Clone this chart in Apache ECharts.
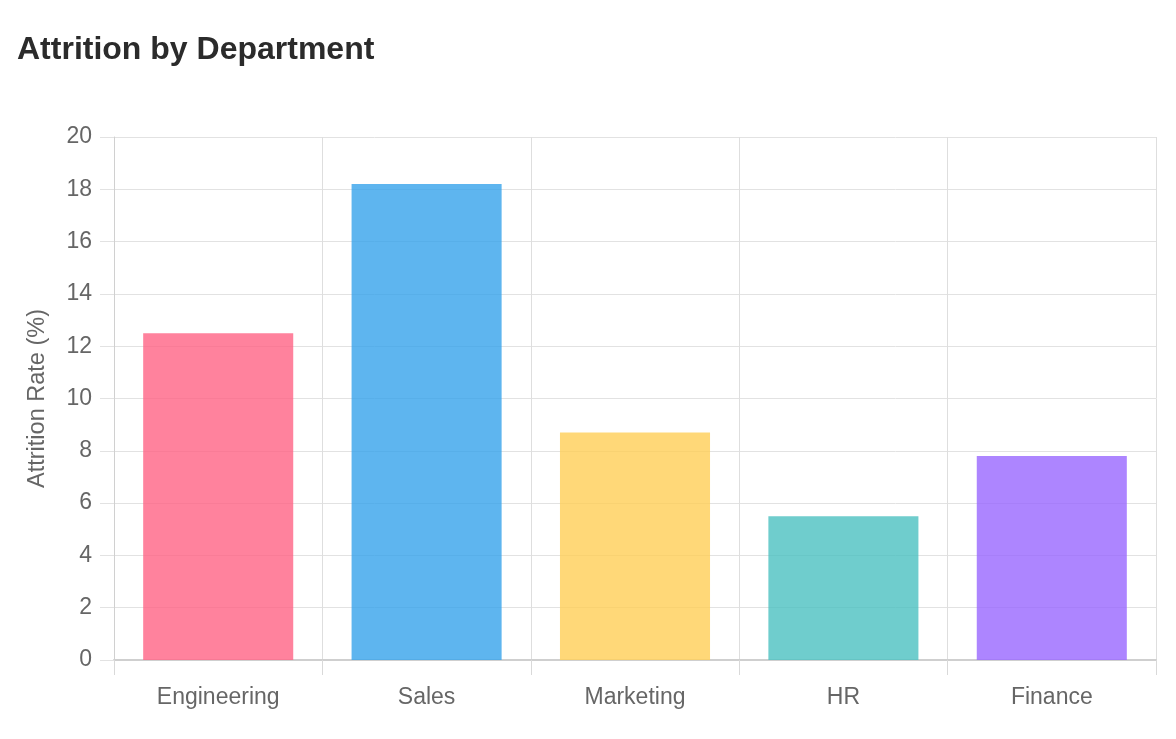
<!DOCTYPE html>
<html>
<head>
<meta charset="utf-8">
<script src="https://cdn.jsdelivr.net/npm/echarts@6/dist/echarts.min.js"></script>
<style>
html,body{margin:0;padding:0;background:#fff;}
#c{width:1176px;height:739px;}
</style>
</head>
<body>
<div id="c"></div>
<script>
const categories = ['Engineering', 'Sales', 'Marketing', 'HR', 'Finance'];
const attritionRate = [12.5, 18.2, 8.7, 5.5, 7.8];
const barColors = ['rgba(255,99,132,0.8)', 'rgba(54,162,235,0.8)', 'rgba(255,206,86,0.8)', 'rgba(75,192,192,0.8)', 'rgba(153,102,255,0.8)'];

const chart = echarts.init(document.getElementById('c'));
const FONT = '"Liberation Sans", Arial, sans-serif';
chart.setOption({
  animation: false,
  title: {
    text: 'Attrition by Department',
    left: 12, top: 29,
    textStyle: {fontFamily: FONT, fontSize: 32, fontWeight: 'bold', color: '#2b2b2b'}
  },
  grid: {left: 114, right: 20, top: 137, bottom: 79},
  xAxis: {
    type: 'category',
    data: categories,
    axisLine: {show: true, lineStyle: {color: '#cfcfcf', width: 2}},
    axisTick: {show: true, length: 15, lineStyle: {color: '#d9d9d9'}},
    splitLine: {show: true, lineStyle: {color: '#dedede', width: 1}},
    axisLabel: {fontFamily: FONT, fontSize: 23, color: '#666', margin: 26}
  },
  yAxis: {
    type: 'value',
    min: 0, max: 20, interval: 2,
    name: 'Attrition Rate (%)',
    nameLocation: 'middle',
    nameGap: 64,
    nameTextStyle: {fontFamily: FONT, fontSize: 23.5, color: '#666'},
    axisLine: {show: true, lineStyle: {color: '#d0d0d0', width: 1}},
    axisTick: {show: true, length: 14, lineStyle: {color: '#e2e2e2'}},
    splitLine: {show: true, lineStyle: {color: '#e2e2e2', width: 1}},
    axisLabel: {fontFamily: FONT, fontSize: 23, color: '#666', margin: 22}
  },
  series: [{
    type: 'bar',
    data: attritionRate.map((v, i) => ({value: v, itemStyle: {color: barColors[i]}})),
    barWidth: '72%'
  }]
});
</script>
</body>
</html>
